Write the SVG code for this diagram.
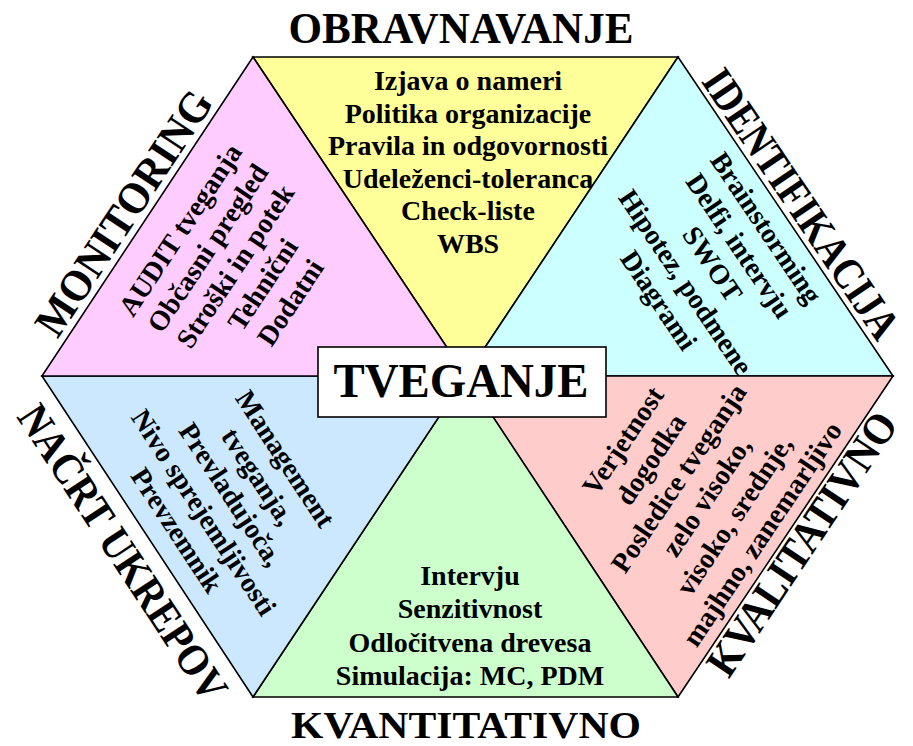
<svg xmlns="http://www.w3.org/2000/svg" width="913" height="746" viewBox="0 0 913 746">
  <style>
    .seg { stroke: #000; stroke-width: 1.6; stroke-linejoin: miter; }
    .txt { font-family: "Liberation Serif", "Times New Roman", serif; font-weight: bold; fill: #000; text-anchor: middle; }
    .body { font-size: 28px; }
    .head { font-size: 44px; }
  </style>
  <rect width="913" height="746" fill="#fff"/>

  <!-- segment borders are the triangle outlines; there are no separate links -->
  <g id="connectors"/>

  <!-- top segment -->
  <g id="obravnavanje">
    <polygon class="seg" fill="#FFFF99" points="253,57 678,57 466,376"/>
    <text class="txt head" x="461" y="43" textLength="345" lengthAdjust="spacingAndGlyphs">OBRAVNAVANJE</text>
    <g class="txt body">
      <text x="468" y="90">Izjava o nameri</text>
      <text x="468" y="123">Politika organizacije</text>
      <text x="468" y="155">Pravila in odgovornosti</text>
      <text x="468" y="188">Udeleženci-toleranca</text>
      <text x="468" y="220">Check-liste</text>
      <text x="468" y="253">WBS</text>
    </g>
  </g>

  <!-- upper right segment -->
  <g id="identifikacija">
    <polygon class="seg" fill="#CCFFFF" points="678,57 893,376 466,376"/>
    <text class="txt head" transform="translate(789,212) rotate(55.9) scale(0.855,1)">IDENTIFIKACIJA</text>
    <g class="txt body" transform="translate(758.5,233) rotate(56)">
      <text x="0" y="0">Brainstorming</text>
      <text x="0" y="32.4">Delfi, intervju</text>
      <text x="0" y="64.8">SWOT</text>
      <text x="0" y="97.2">Hipotez, podmene</text>
      <text x="0" y="129.6">Diagrami</text>
    </g>
  </g>

  <!-- lower right segment -->
  <g id="kvalitativno">
    <polygon class="seg" fill="#FFCCCC" points="893,376 678,697 466,376"/>
    <text class="txt head" transform="translate(814,552) rotate(-56.2) scale(0.91,1)">KVALITATIVNO</text>
    <g class="txt body" transform="translate(630.7,446) rotate(-56.2)">
      <text x="0" y="0">Verjetnost</text>
      <text x="0" y="33.5">dogodka</text>
      <text x="0" y="67">Posledice tveganja</text>
      <text x="0" y="100.5">zelo visoko,</text>
      <text x="0" y="134">visoko, srednje,</text>
      <text x="0" y="167.5">majhno, zanemarljivo</text>
    </g>
  </g>

  <!-- bottom segment -->
  <g id="kvantitativno">
    <polygon class="seg" fill="#CCFFCC" points="678,697 253,697 466,376"/>
    <text class="txt" style="font-size:37px" x="466" y="738" textLength="350" lengthAdjust="spacingAndGlyphs">KVANTITATIVNO</text>
    <g class="txt body">
      <text x="470" y="585">Intervju</text>
      <text x="470" y="618">Senzitivnost</text>
      <text x="470" y="652">Odločitvena drevesa</text>
      <text x="470" y="685">Simulacija: MC, PDM</text>
    </g>
  </g>

  <!-- lower left segment -->
  <g id="nacrt-ukrepov">
    <polygon class="seg" fill="#CCE8FF" points="253,697 42,376 466,376"/>
    <text class="txt head" transform="translate(110.6,560.7) rotate(56.7) scale(0.895,1)">NAČRT UKREPOV</text>
    <g class="txt body" transform="translate(277.5,464) rotate(56.7)">
      <text x="0" y="0">Management</text>
      <text x="0" y="32.5">tveganja,</text>
      <text x="0" y="65">Prevladujoča,</text>
      <text x="0" y="97.5">Nivo sprejemljivosti</text>
      <text x="0" y="130">Prevzemnik</text>
    </g>
  </g>

  <!-- upper left segment -->
  <g id="monitoring">
    <polygon class="seg" fill="#FFCCFF" points="42,376 253,57 466,376"/>
    <text class="txt head" transform="translate(136,221) rotate(-56.5) scale(0.94,1)">MONITORING</text>
    <g class="txt body" transform="translate(188,235) rotate(-56.5)">
      <text x="0" y="0">AUDIT tveganja</text>
      <text x="0" y="33">Občasni pregled</text>
      <text x="0" y="66">Stroški in potek</text>
      <text x="0" y="99">Tehnični</text>
      <text x="0" y="132">Dodatni</text>
    </g>
  </g>

  <!-- central label -->
  <g id="tveganje">
    <rect x="318" y="347" width="288" height="70" fill="#fff" stroke="#000" stroke-width="1.6"/>
    <text class="txt" style="font-size:48px" x="461" y="397" textLength="255" lengthAdjust="spacingAndGlyphs">TVEGANJE</text>
  </g>
</svg>
